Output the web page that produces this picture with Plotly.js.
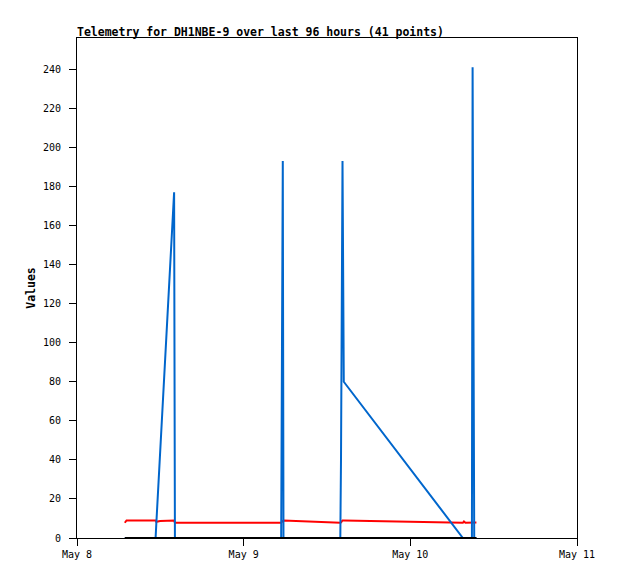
<!DOCTYPE html>
<html>
<head>
<meta charset="utf-8">
<script src="https://cdn.plot.ly/plotly-3.0.1.min.js"></script>
<style>html,body{margin:0;padding:0;background:#fff;}#chart{width:618px;height:579px;}</style>
</head>
<body>
<div id="chart"></div>
<script>
// Timestamps of telemetry packets
var times = [
  "2024-05-08 06:53", "2024-05-08 07:08", "2024-05-08 11:19", "2024-05-08 11:25",
  "2024-05-08 11:58", "2024-05-08 13:24", "2024-05-08 13:59", "2024-05-08 14:06",
  "2024-05-09 05:24", "2024-05-09 05:31", "2024-05-09 05:38", "2024-05-09 05:44",
  "2024-05-09 13:55", "2024-05-09 14:01", "2024-05-09 14:14", "2024-05-09 14:25",
  "2024-05-10 07:34", "2024-05-10 07:43", "2024-05-10 07:56", "2024-05-10 08:52",
  "2024-05-10 08:58", "2024-05-10 09:05", "2024-05-10 09:12", "2024-05-10 09:31"
];
var blueValues = [
  0, 0, 0, 7,
  43, 139, 177, 0,
  0, 97, 193, 0,
  0, 40, 193, 80,
  0, 0, 0, 0,
  241, 120, 0, 0
];
var redValues = [
  7.8, 9.0, 9.0, 8.3,
  8.7, 9.0, 9.0, 7.8,
  7.8, 8.4, 9.0, 9.0,
  7.8, 8.0, 9.0, 9.0,
  7.8, 8.5, 7.8, 7.8,
  7.8, 7.8, 7.8, 8.0
];
var blackValues = [
  0, 0, 0, 0,
  0, 0, 0, 0,
  0, 0, 0, 0,
  0, 0, 0, 0,
  0, 0, 0, 0,
  0, 0, 0, 0
];
var xTickVals = ["2024-05-08", "2024-05-09", "2024-05-10", "2024-05-11"];
var xTickText = ["May 8", "May 9", "May 10", "May 11"];
var yTickVals = [0, 20, 40, 60, 80, 100, 120, 140, 160, 180, 200, 220, 240];

var mono = "DejaVu Sans Mono, Liberation Mono, monospace";

var traces = [
  {x: times, y: redValues, type: "scatter", mode: "lines", line: {color: "#ff0000", width: 2}, hoverinfo: "skip"},
  {x: times, y: blueValues, type: "scatter", mode: "lines", line: {color: "#0066cc", width: 2}, hoverinfo: "skip"},
  {x: times, y: blackValues, type: "scatter", mode: "lines", line: {color: "#000000", width: 2}, hoverinfo: "skip"}
];

var layout = {
  width: 618, height: 579,
  margin: {l: 77, r: 41, t: 38, b: 41, pad: 0},
  paper_bgcolor: "#ffffff", plot_bgcolor: "#ffffff",
  showlegend: false,
  font: {family: mono, size: 10, color: "#000000"},
  title: {
    text: "<b>Telemetry for DH1NBE-9 over last 96 hours (41 points)</b>",
    font: {family: mono, size: 11.5, color: "#000000"},
    xref: "paper", x: 0, xanchor: "left",
    yref: "container", y: 1 - 32 / 579, yanchor: "middle"
  },
  xaxis: {
    type: "date",
    range: ["2024-05-08", "2024-05-11"],
    tickmode: "array", tickvals: xTickVals, ticktext: xTickText,
    ticks: "outside", ticklen: 7, tickwidth: 1, tickcolor: "#000",
    showgrid: false, zeroline: false,
    showline: true, linecolor: "#000", linewidth: 1, mirror: true,
    tickfont: {family: mono, size: 10, color: "#000"}
  },
  yaxis: {
    range: [0, 256],
    tickmode: "array", tickvals: yTickVals,
    ticks: "outside", ticklen: 7, tickwidth: 1, tickcolor: "#000",
    showgrid: false, zeroline: false,
    showline: true, linecolor: "#000", linewidth: 1, mirror: true,
    tickfont: {family: mono, size: 10, color: "#000"},
    ticklabelstandoff: 6,
    title: {text: "<b>Values</b>", font: {family: mono, size: 11.5, color: "#000"}, standoff: 4}
  }
};

Plotly.newPlot("chart", traces, layout, {staticPlot: true, displayModeBar: false});
</script>
</body>
</html>
